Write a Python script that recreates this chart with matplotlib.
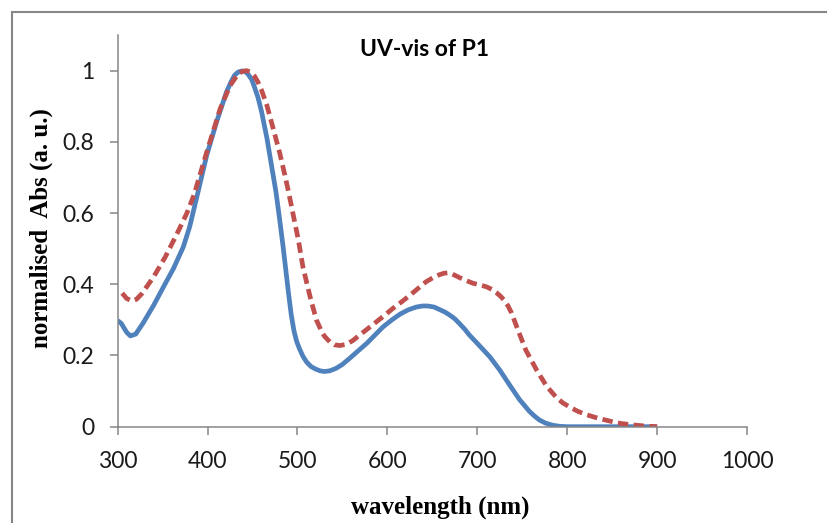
import matplotlib
matplotlib.use("Agg")
import matplotlib.pyplot as plt
from matplotlib.patches import Rectangle

# data
wl_solid = [300, 304, 310, 314, 320, 328, 340, 351, 362, 373, 380, 388, 399, 410,
            421, 426, 430, 434, 438, 442, 445, 449, 452, 456, 460, 466, 471, 476,
            480, 484, 487, 490, 493, 496, 499, 502, 506, 510, 515, 520, 525, 530,
            536, 543, 550, 558, 567, 577, 586, 595, 605, 614, 623, 632, 639, 645,
            652, 658, 664, 669, 675, 680, 686, 691, 700, 707, 714, 725, 736, 747,
            758, 764, 769, 776, 784, 792, 800, 850, 900]
abs_solid = [0.298, 0.29, 0.265, 0.255, 0.26, 0.29, 0.341, 0.393, 0.444, 0.505,
             0.561, 0.645, 0.762, 0.856, 0.94, 0.968, 0.987, 0.996, 0.999, 0.997,
             0.99, 0.975, 0.955, 0.925, 0.885, 0.81, 0.735, 0.66, 0.585, 0.505,
             0.44, 0.375, 0.315, 0.27, 0.24, 0.22, 0.198, 0.182, 0.169, 0.162,
             0.157, 0.155, 0.157, 0.164, 0.175, 0.192, 0.212, 0.234, 0.257, 0.28,
             0.30, 0.316, 0.328, 0.336, 0.339, 0.339, 0.336, 0.329, 0.322, 0.314,
             0.303, 0.29, 0.274, 0.258, 0.234, 0.215, 0.196, 0.159, 0.117, 0.076,
             0.043, 0.029, 0.019, 0.01, 0.004, 0.001, 0.0, 0.0, 0.0]

wl_dash = [305, 310, 316, 321, 327, 340, 353, 366, 377, 385, 399, 414, 425, 434,
           439, 443, 448, 452, 456, 460, 466, 473, 480, 486, 490, 495, 501, 506,
           514, 521, 526, 530, 536, 541, 547, 554, 561, 569, 578, 588, 597, 606,
           616, 625, 634, 643, 651, 658, 663, 667, 672, 680, 688, 695, 703, 710,
           716, 721, 726, 730, 734, 738, 745, 754, 766, 777, 788, 795, 803, 812,
           821, 834, 847, 860, 873, 886, 900]
abs_dash = [0.375, 0.36, 0.353, 0.358, 0.374, 0.421, 0.477, 0.542, 0.60, 0.652,
            0.771, 0.893, 0.958, 0.991, 0.998, 1.0, 0.996, 0.985, 0.968, 0.945,
            0.902, 0.837, 0.771, 0.706, 0.66, 0.598, 0.524, 0.449, 0.365, 0.30,
            0.272, 0.254, 0.238, 0.23, 0.228, 0.231, 0.241, 0.257, 0.275, 0.295,
            0.313, 0.332, 0.351, 0.369, 0.388, 0.407, 0.419, 0.427, 0.431, 0.432,
            0.429, 0.419, 0.41, 0.403, 0.398, 0.393, 0.386, 0.377, 0.366, 0.355,
            0.34, 0.32, 0.273, 0.215, 0.159, 0.114, 0.082, 0.067, 0.055, 0.043,
            0.034, 0.024, 0.016, 0.009, 0.005, 0.002, 0.0]

x_ticks = [300, 400, 500, 600, 700, 800, 900, 1000]
y_ticks = [0, 0.2, 0.4, 0.6, 0.8, 1]
y_ticklabels = ["0", "0.2", "0.4", "0.6", "0.8", "1"]

W, H = 827, 523
fig = plt.figure(figsize=(W / 100, H / 100), dpi=100)
ax = fig.add_axes([117.7 / W, 1 - 426.7 / H, (747 - 117.7) / W, (426.7 - 35) / H])

grey = "#868686"

ax.plot(wl_solid, abs_solid, color="#4F81BD", lw=3.4, solid_joinstyle="round",
        solid_capstyle="butt")
ax.plot(wl_dash, abs_dash, color="#C0504D", lw=3.4, dashes=(2.2, 1.15),
        dash_capstyle="butt", dash_joinstyle="round")

ax.set_xlim(300, 1000)
ax.set_ylim(0, 1.1)
ax.set_xticks(x_ticks)
ax.set_yticks(y_ticks)
ax.set_yticklabels(y_ticklabels)

for s in ["top", "right"]:
    ax.spines[s].set_visible(False)
for s in ["left", "bottom"]:
    ax.spines[s].set_color(grey)
    ax.spines[s].set_linewidth(1.1)

ax.tick_params(axis="both", direction="out", length=5.8, width=1.1, color=grey,
               labelsize=16.5, labelcolor="#1a1a1a")
ax.tick_params(axis="x", pad=12)
ax.tick_params(axis="y", pad=11)
for lab in ax.get_xticklabels() + ax.get_yticklabels():
    lab.set_family("Lato")

# titles and axis labels
fig.text(425 / W, 1 - 50 / H, "UV-vis of P1", ha="center", va="center",
         family="Lato", fontweight="bold", fontsize=16.5)
fig.text(440 / W, 1 - 507 / H, "wavelength (nm)", ha="center", va="center",
         family="Liberation Serif", fontweight="bold", fontsize=18)
fig.text(41 / W, 1 - 228 / H, "normalised  Abs (a. u.)", ha="center", va="center",
         rotation=90, family="Liberation Serif", fontweight="bold", fontsize=18)

# outer chart border (cut off at right and bottom)
fig.patches.append(Rectangle((11.5 / W, -0.1), 1.2, 1 - 12 / H + 0.1,
                             transform=fig.transFigure, fill=False,
                             edgecolor=grey, lw=1.5, clip_on=False))

fig.savefig("out.png", dpi=100)
